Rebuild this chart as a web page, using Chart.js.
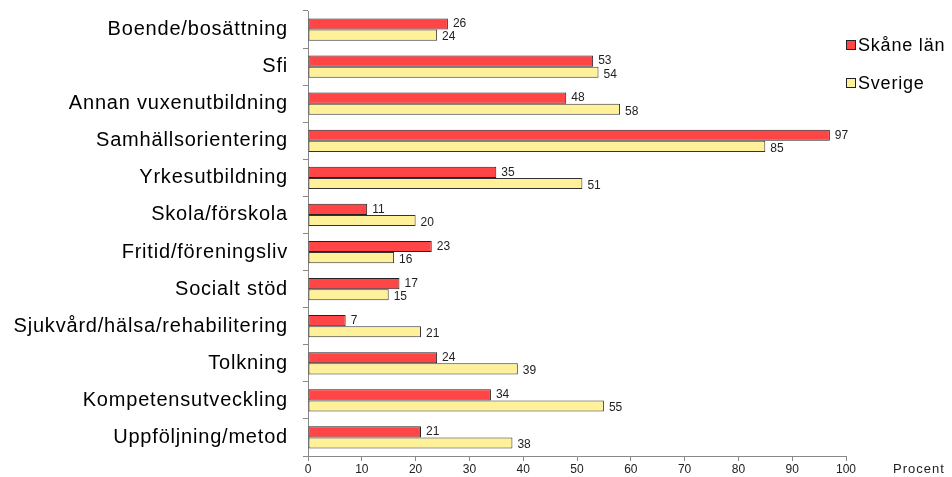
<!DOCTYPE html>
<html><head><meta charset="utf-8">
<script src="https://cdn.jsdelivr.net/npm/chart.js@4/dist/chart.umd.min.js"></script>
<style>html,body{margin:0;padding:0;background:#fff}#wrap{width:952px;height:477px;position:relative}</style>
</head><body><div id="wrap"><canvas id="c" width="952" height="477"></canvas></div>
<script>
const categories = ["Boende/bosättning","Sfi","Annan vuxenutbildning","Samhällsorientering","Yrkesutbildning","Skola/förskola","Fritid/föreningsliv","Socialt stöd","Sjukvård/hälsa/rehabilitering","Tolkning","Kompetensutveckling","Uppföljning/metod"];
const skane = [26,53,48,97,35,11,23,17,7,24,34,21];
const sverige = [24,54,58,85,51,20,16,15,21,39,55,38];
const seriesNames = ["Skåne län","Sverige"];
const xTicks = [0,10,20,30,40,50,60,70,80,90,100];
const axisTitle = "Procent";

const FONT = "'Liberation Sans', Arial, sans-serif";

const spacingPlugin = {
  id: 'ySpacing',
  beforeDraw(chart) {
    const s = chart.scales.y;
    if (s && !s.__ls) {
      const orig = s.drawLabels;
      s.drawLabels = function (a) {
        const c = this.ctx;
        c.save();
        c.letterSpacing = '0.8px';
        orig.call(this, a);
        c.restore();
      };
      s.__ls = true;
    }
  }
};

const labelPlugin = {
  id: 'valueLabels',
  afterDatasetsDraw(chart) {
    const ctx = chart.ctx;
    ctx.save();
    ctx.font = "12px " + FONT;
    ctx.fillStyle = "#222";
    ctx.textAlign = "left";
    ctx.textBaseline = "middle";
    chart.data.datasets.forEach((ds, di) => {
      const meta = chart.getDatasetMeta(di);
      meta.data.forEach((el, i) => {
        ctx.fillText(String(ds.data[i]), el.x + 5, el.y + (di === 0 ? 0 : 2));
      });
    });
    ctx.restore();
  }
};

const legendPlugin = {
  id: 'customLegend',
  afterDraw(chart) {
    const ctx = chart.ctx;
    ctx.save();
    const x = chart.chartArea.right;
    const ys = [45, 83];
    chart.data.datasets.forEach((ds, di) => {
      const y = ys[di];
      ctx.fillStyle = ds.backgroundColor;
      ctx.fillRect(x + 0.5, y - 4.5, 9, 9);
      ctx.strokeStyle = "#222";
      ctx.lineWidth = 1;
      ctx.strokeRect(x + 0.5, y - 4.5, 9, 9);
      ctx.fillStyle = "#000";
      ctx.font = "18px " + FONT;
      ctx.letterSpacing = '0.8px';
      ctx.textBaseline = "middle";
      ctx.textAlign = "left";
      ctx.fillText(ds.label, x + 12, y + 1);
    });
    ctx.font = "13px " + FONT;
    ctx.letterSpacing = '1px';
    ctx.fillStyle = "#222";
    ctx.textAlign = "left";
    ctx.textBaseline = "middle";
    ctx.fillText(axisTitle, 893, 469);
    ctx.restore();
  }
};

new Chart(document.getElementById('c'), {
  type: 'bar',
  data: {
    labels: categories,
    datasets: [
      { label: seriesNames[0], data: skane, backgroundColor: '#FF4545', borderColor: '#222', borderWidth: 1, borderSkipped: false },
      { label: seriesNames[1], data: sverige, backgroundColor: '#FFF09A', borderColor: '#333', borderWidth: 1, borderSkipped: false }
    ]
  },
  options: {
    indexAxis: 'y',
    responsive: false,
    animation: false,
    devicePixelRatio: 1,
    layout: { padding: { left: 10, right: 106, top: 11, bottom: 0 } },
    datasets: { bar: { categoryPercentage: 0.6, barPercentage: 1.0 } },
    plugins: { legend: { display: false }, tooltip: { enabled: false } },
    scales: {
      x: {
        min: 0, max: 100,
        afterFit(scale) { scale.height = 21; },
        afterBuildTicks(scale) { scale.ticks = xTicks.map(v => ({ value: v })); },
        ticks: { font: { family: FONT, size: 12 }, color: '#222', padding: 1, maxRotation: 0 },
        grid: { drawOnChartArea: false, drawTicks: true, tickLength: 5, color: '#888' },
        border: { color: '#888' }
      },
      y: {
        afterFit(scale) { scale.width = 298; scale.paddingTop = 0; scale.paddingBottom = 0; },
        ticks: { font: { family: FONT, size: 20 }, color: '#000', padding: 15 },
        grid: { offset: true, drawOnChartArea: false, drawTicks: true, tickLength: 5, color: '#888' },
        border: { color: '#888' }
      }
    }
  },
  plugins: [spacingPlugin, labelPlugin, legendPlugin]
});
</script></body></html>
